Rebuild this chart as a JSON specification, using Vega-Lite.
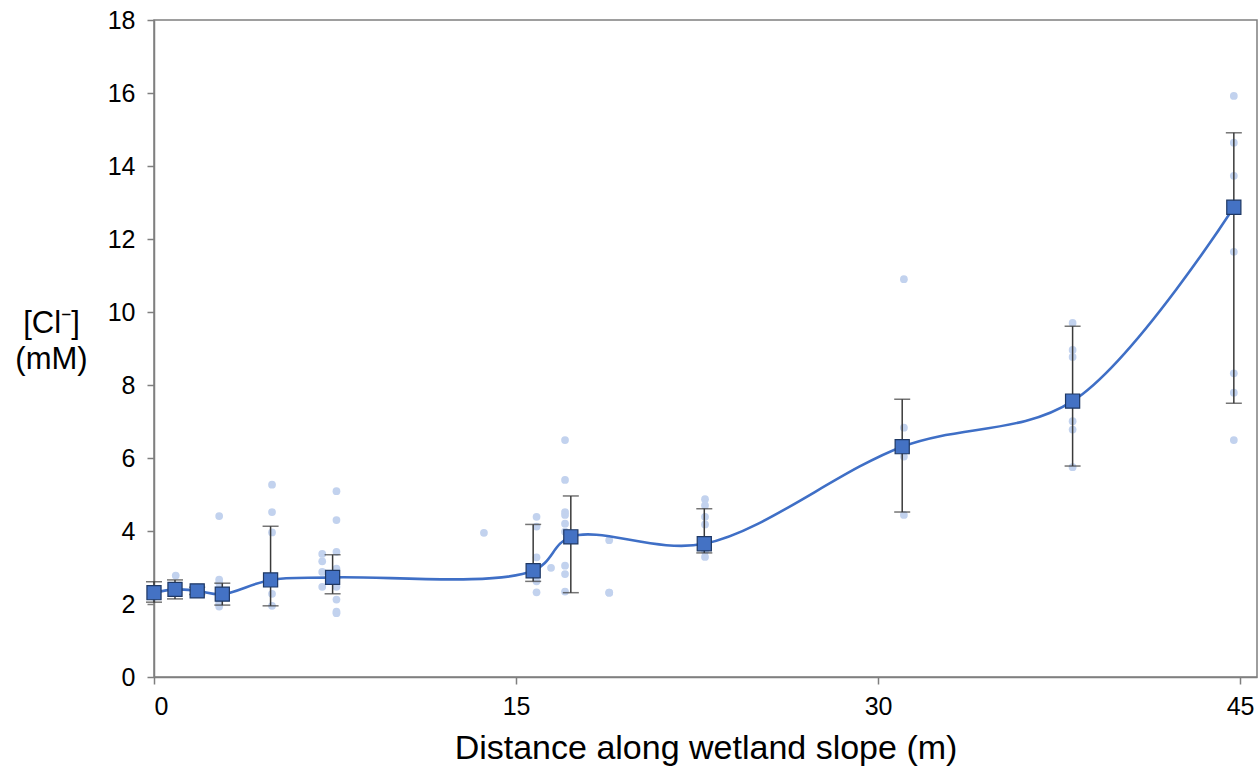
{
  "$schema": "https://vega.github.io/schema/vega-lite/v6.json",
  "width": 1103,
  "height": 657,
  "autosize": "none",
  "padding": {"left": 154, "top": 20, "right": 2, "bottom": 93},
  "background": "white",
  "config": {
    "font": "Liberation Sans",
    "view": {"stroke": "#7f7f7f", "strokeWidth": 1.5},
    "axis": {
      "grid": false,
      "domainColor": "#7f7f7f",
      "domainWidth": 1.5,
      "tickColor": "#7f7f7f",
      "tickWidth": 1.5,
      "tickSize": 7,
      "labelColor": "#000000",
      "titleColor": "#000000",
      "labelFont": "Liberation Sans",
      "titleFont": "Liberation Sans",
      "labelFontSize": 25,
      "titleFontWeight": "normal"
    }
  },
  "resolve": {"axis": {"x": "independent", "y": "independent"}},
  "datasets": {
    "samples": [
      {"dist": 0.0, "cl": 2.2}, {"dist": 0.0, "cl": 2.4},
      {"dist": 0.9, "cl": 2.78}, {"dist": 0.9, "cl": 2.5},
      {"dist": 1.8, "cl": 2.35}, {"dist": 1.8, "cl": 2.45},
      {"dist": 2.7, "cl": 4.41}, {"dist": 2.7, "cl": 2.67}, {"dist": 2.7, "cl": 2.58},
      {"dist": 2.7, "cl": 2.42}, {"dist": 2.7, "cl": 2.02}, {"dist": 2.7, "cl": 1.93},
      {"dist": 4.89, "cl": 5.27}, {"dist": 4.89, "cl": 4.52}, {"dist": 4.89, "cl": 3.96},
      {"dist": 4.89, "cl": 2.6}, {"dist": 4.89, "cl": 2.28}, {"dist": 4.89, "cl": 1.95},
      {"dist": 7.56, "cl": 5.09}, {"dist": 7.56, "cl": 4.3}, {"dist": 7.56, "cl": 3.43},
      {"dist": 7.56, "cl": 2.97}, {"dist": 7.56, "cl": 2.71}, {"dist": 7.56, "cl": 2.47},
      {"dist": 7.56, "cl": 2.12}, {"dist": 7.56, "cl": 1.79}, {"dist": 7.56, "cl": 1.75},
      {"dist": 6.97, "cl": 3.37}, {"dist": 6.97, "cl": 3.17}, {"dist": 6.97, "cl": 2.88},
      {"dist": 6.97, "cl": 2.47},
      {"dist": 13.67, "cl": 3.95},
      {"dist": 15.85, "cl": 4.39}, {"dist": 15.85, "cl": 4.12}, {"dist": 15.85, "cl": 3.28},
      {"dist": 15.85, "cl": 2.62}, {"dist": 15.85, "cl": 2.32},
      {"dist": 16.45, "cl": 2.99},
      {"dist": 17.03, "cl": 6.49}, {"dist": 17.03, "cl": 5.4}, {"dist": 17.03, "cl": 4.52},
      {"dist": 17.03, "cl": 4.44}, {"dist": 17.03, "cl": 4.2}, {"dist": 17.03, "cl": 3.98},
      {"dist": 17.03, "cl": 3.05}, {"dist": 17.03, "cl": 2.82}, {"dist": 17.03, "cl": 2.34},
      {"dist": 18.86, "cl": 2.31}, {"dist": 18.86, "cl": 2.31}, {"dist": 18.86, "cl": 3.75},
      {"dist": 22.83, "cl": 4.87}, {"dist": 22.83, "cl": 4.7}, {"dist": 22.83, "cl": 4.39},
      {"dist": 22.83, "cl": 4.18}, {"dist": 22.83, "cl": 3.45}, {"dist": 22.83, "cl": 3.29},
      {"dist": 31.07, "cl": 10.9}, {"dist": 31.07, "cl": 6.83}, {"dist": 31.07, "cl": 6.04},
      {"dist": 31.07, "cl": 4.44},
      {"dist": 38.06, "cl": 9.7}, {"dist": 38.06, "cl": 8.96}, {"dist": 38.06, "cl": 8.77},
      {"dist": 38.06, "cl": 7.01}, {"dist": 38.06, "cl": 6.78}, {"dist": 38.06, "cl": 5.75},
      {"dist": 44.74, "cl": 15.92}, {"dist": 44.74, "cl": 14.64}, {"dist": 44.74, "cl": 13.73},
      {"dist": 44.74, "cl": 11.65}, {"dist": 44.74, "cl": 8.32}, {"dist": 44.74, "cl": 7.79},
      {"dist": 44.74, "cl": 6.49}
    ],
    "means": [
      {"dist": 0.0, "mean": 2.31, "lo": 2.05, "hi": 2.61},
      {"dist": 0.87, "mean": 2.4, "lo": 2.14, "hi": 2.66},
      {"dist": 1.79, "mean": 2.36, "lo": 2.26, "hi": 2.46},
      {"dist": 2.83, "mean": 2.27, "lo": 1.97, "hi": 2.57},
      {"dist": 4.83, "mean": 2.66, "lo": 1.95, "hi": 4.13},
      {"dist": 7.4, "mean": 2.73, "lo": 2.28, "hi": 3.35},
      {"dist": 15.71, "mean": 2.91, "lo": 2.62, "hi": 4.18},
      {"dist": 17.27, "mean": 3.84, "lo": 2.31, "hi": 4.96},
      {"dist": 22.8, "mean": 3.65, "lo": 3.4, "hi": 4.61},
      {"dist": 31.0, "mean": 6.31, "lo": 4.52, "hi": 7.61},
      {"dist": 38.06, "mean": 7.56, "lo": 5.78, "hi": 9.61},
      {"dist": 44.74, "mean": 12.87, "lo": 7.5, "hi": 14.91}
    ]
  },
  "layer": [
    {
      "data": {"name": "samples"},
      "mark": {"type": "circle", "size": 60, "color": "#c2d2ee", "opacity": 1},
      "encoding": {
        "x": {
          "field": "dist", "type": "quantitative",
          "scale": {"domain": [0, 45.7], "nice": false, "zero": false},
          "axis": {
            "values": [0, 15, 30, 45],
            "labelFontSize": 25,
            "labelPadding": 10,
            "title": "Distance along wetland slope (m)",
            "titleFontSize": 34,
            "titleY": 71,
            "titleBaseline": "middle"
          }
        },
        "y": {
          "field": "cl", "type": "quantitative",
          "scale": {"domain": [0, 18], "nice": false},
          "axis": {
            "values": [0, 2, 4, 6, 8, 10, 12, 14, 16, 18],
            "labelFontSize": 25,
            "labelPadding": 12,
            "title": ["[Cl⁻]", "(mM)"],
            "titleFontSize": 31,
            "titleAngle": 0,
            "titleAlign": "center",
            "titleBaseline": "middle",
            "titleLineHeight": 36,
            "titleX": -103,
            "titleY": 303
          }
        }
      }
    },
    {
      "data": {"name": "means"},
      "mark": {"type": "line", "interpolate": "catmull-rom", "color": "#3f6fc6", "strokeWidth": 2.6},
      "encoding": {
        "x": {"field": "dist", "type": "quantitative", "axis": null},
        "y": {"field": "mean", "type": "quantitative", "axis": null}
      }
    },
    {
      "data": {"name": "means"},
      "mark": {
        "type": "errorbar",
        "color": "#3a3a3a",
        "thickness": 1.5,
        "ticks": {"size": 16, "color": "#3a3a3a", "thickness": 1.5}
      },
      "encoding": {
        "x": {"field": "dist", "type": "quantitative", "axis": null},
        "y": {"field": "lo", "type": "quantitative", "axis": null},
        "y2": {"field": "hi"}
      }
    },
    {
      "data": {"name": "means"},
      "mark": {
        "type": "point", "shape": "square", "filled": true, "size": 200,
        "color": "#4472c4", "stroke": "#1f3864", "strokeWidth": 1.2, "opacity": 1
      },
      "encoding": {
        "x": {"field": "dist", "type": "quantitative", "axis": null},
        "y": {"field": "mean", "type": "quantitative", "axis": null}
      }
    }
  ]
}
